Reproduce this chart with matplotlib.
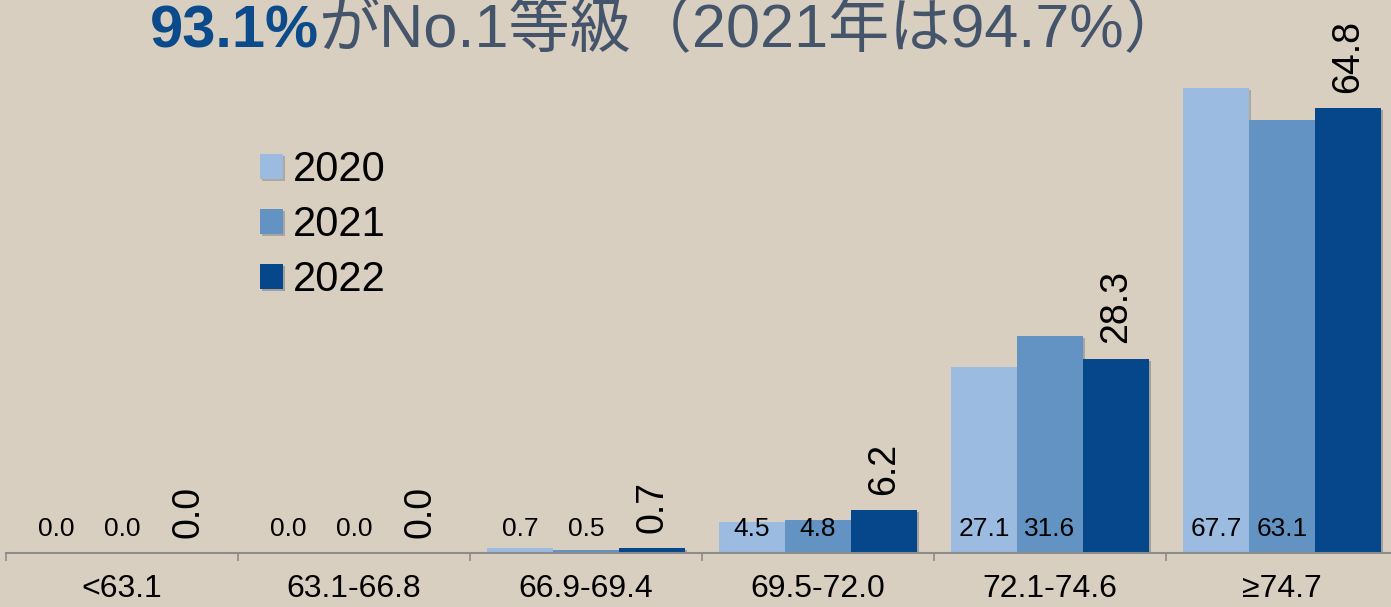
import numpy as np
import matplotlib.pyplot as plt
from matplotlib import patheffects as pe

plt.rcParams['font.family'] = ['Liberation Sans', 'Noto Sans CJK JP', 'DejaVu Sans']

categories = ["<63.1", "63.1-66.8", "66.9-69.4", "69.5-72.0", "72.1-74.6", "≥74.7"]
years = ["2020", "2021", "2022"]
v2020 = [0.0, 0.0, 0.7, 4.5, 27.1, 67.7]
v2021 = [0.0, 0.0, 0.5, 4.8, 31.6, 63.1]
v2022 = [0.0, 0.0, 0.7, 6.2, 28.3, 64.8]
colors = ["#9BBBE0", "#6393C3", "#06468A"]

W, H = 1391, 607
fig = plt.figure(figsize=(W / 100, H / 100), dpi=100)
fig.patch.set_facecolor("#D9CFC0")

# axes run past the right edge, like the original slide
ax = fig.add_axes([6 / W, 54 / H, 1392 / W, 549.6 / H])
ax.set_facecolor("none")

x = np.arange(len(categories))
w = 66 / 232
shadow = [pe.SimplePatchShadow(offset=(1.5, -1.5), alpha=0.25), pe.Normal()]

for i, (vals, c, lab) in enumerate(zip([v2020, v2021, v2022], colors, years)):
    pos = x + (i - 1) * w
    bars = ax.bar(pos, vals, w, color=c, label=lab, zorder=2)
    for b in bars:
        b.set_path_effects(shadow)
    for xp, v in zip(pos, vals):
        if i < 2:
            ax.annotate(f"{v:.1f}", (xp, 0), xytext=(0, 12),
                        textcoords="offset points", ha="center",
                        va="baseline", fontsize=19, zorder=3)
        else:
            ax.annotate(f"{v:.1f}", (xp, v), xytext=(0, 11),
                        textcoords="offset points", ha="center",
                        va="bottom", rotation=90, fontsize=27, zorder=3)

ax.set_xlim(-0.5, 5.5)
ax.set_ylim(0, 80)
ax.set_yticks([])
ax.set_xticks(x)
ax.set_xticklabels(categories, fontsize=23)
ax.set_xticks(np.arange(-0.5, 6.0, 1.0), minor=True)
ax.tick_params(axis="x", which="major", length=0, pad=15)
ax.tick_params(axis="x", which="minor", length=6, width=1.2,
               color="#8C8C8C", direction="out")
for s in ["left", "top", "right"]:
    ax.spines[s].set_visible(False)
ax.spines["bottom"].set_color("#8C8C8C")
ax.spines["bottom"].set_linewidth(1.5)

leg = ax.legend(loc="upper left", bbox_to_anchor=(260 / W, (H - 150) / H),
                bbox_transform=fig.transFigure, frameon=False, fontsize=30,
                handlelength=0.55, handleheight=0.55, handletextpad=0.25,
                labelspacing=0.36, borderpad=0, borderaxespad=0)

fig.text(150 / W, (H - 47) / H, "93.1%", fontsize=43, fontweight="bold",
         color="#0B4A8B", ha="left", va="baseline")
fig.text(318 / W, (H - 47) / H, "がNo.1等級（2021年は94.7%）", fontsize=44,
         color="#44546A", ha="left", va="baseline")

plt.savefig("out.png", dpi=100, facecolor=fig.get_facecolor())
plt.close()
